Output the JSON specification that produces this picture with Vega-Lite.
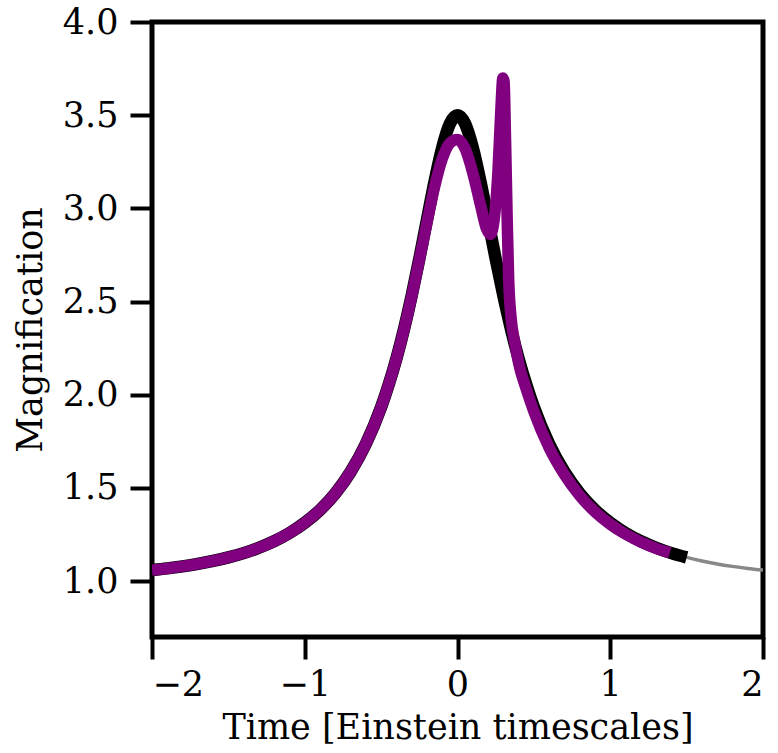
{
  "$schema": "https://vega.github.io/schema/vega-lite/v6.json",
  "autosize": {"type": "none"},
  "padding": {"left": 152, "top": 22, "right": 15, "bottom": 116},
  "width": 611,
  "height": 615,
  "background": "white",
  "config": {
    "font": "DejaVu Serif",
    "view": {"stroke": "black", "strokeWidth": 5},
    "axis": {
      "domain": false,
      "grid": false,
      "ticks": true,
      "tickColor": "black",
      "tickWidth": 4,
      "tickSize": 22,
      "labelFont": "DejaVu Serif",
      "labelFontSize": 35,
      "labelColor": "black",
      "titleFont": "DejaVu Serif",
      "titleFontSize": 35,
      "titleFontWeight": "normal",
      "titleColor": "black"
    }
  },
  "datasets": {
    "pspl": [
      {"t": -2.0, "A": 1.059}, {"t": -1.9, "A": 1.068}, {"t": -1.8, "A": 1.079}, {"t": -1.7, "A": 1.092},
      {"t": -1.6, "A": 1.108}, {"t": -1.5, "A": 1.127}, {"t": -1.4, "A": 1.150}, {"t": -1.3, "A": 1.179},
      {"t": -1.2, "A": 1.214}, {"t": -1.1, "A": 1.258}, {"t": -1.0, "A": 1.313}, {"t": -0.9, "A": 1.382},
      {"t": -0.8, "A": 1.471}, {"t": -0.7, "A": 1.586}, {"t": -0.6, "A": 1.736}, {"t": -0.5, "A": 1.933},
      {"t": -0.45, "A": 2.055}, {"t": -0.4, "A": 2.194}, {"t": -0.35, "A": 2.353}, {"t": -0.3, "A": 2.532},
      {"t": -0.25, "A": 2.729}, {"t": -0.2, "A": 2.938}, {"t": -0.15, "A": 3.145}, {"t": -0.1, "A": 3.326},
      {"t": -0.05, "A": 3.454}, {"t": 0.0, "A": 3.499}, {"t": 0.05, "A": 3.454}, {"t": 0.1, "A": 3.326},
      {"t": 0.15, "A": 3.145}, {"t": 0.2, "A": 2.938}, {"t": 0.25, "A": 2.729}, {"t": 0.3, "A": 2.532},
      {"t": 0.35, "A": 2.353}, {"t": 0.4, "A": 2.194}, {"t": 0.45, "A": 2.055}, {"t": 0.5, "A": 1.933},
      {"t": 0.6, "A": 1.736}, {"t": 0.7, "A": 1.586}, {"t": 0.8, "A": 1.471}, {"t": 0.9, "A": 1.382},
      {"t": 1.0, "A": 1.313}, {"t": 1.1, "A": 1.258}, {"t": 1.2, "A": 1.214}, {"t": 1.3, "A": 1.179},
      {"t": 1.4, "A": 1.150}, {"t": 1.5, "A": 1.127}, {"t": 1.6, "A": 1.108}, {"t": 1.7, "A": 1.092},
      {"t": 1.8, "A": 1.079}, {"t": 1.9, "A": 1.068}, {"t": 2.0, "A": 1.059}
    ],
    "binary": [
      {"t": -2.0, "A": 1.059}, {"t": -1.9, "A": 1.068}, {"t": -1.8, "A": 1.079}, {"t": -1.7, "A": 1.092},
      {"t": -1.6, "A": 1.108}, {"t": -1.5, "A": 1.127}, {"t": -1.4, "A": 1.150}, {"t": -1.3, "A": 1.179},
      {"t": -1.2, "A": 1.214}, {"t": -1.1, "A": 1.258}, {"t": -1.0, "A": 1.313}, {"t": -0.9, "A": 1.382},
      {"t": -0.8, "A": 1.471}, {"t": -0.7, "A": 1.586}, {"t": -0.6, "A": 1.736}, {"t": -0.5, "A": 1.933},
      {"t": -0.45, "A": 2.055}, {"t": -0.4, "A": 2.192}, {"t": -0.35, "A": 2.350}, {"t": -0.3, "A": 2.527},
      {"t": -0.25, "A": 2.722}, {"t": -0.2, "A": 2.922}, {"t": -0.15, "A": 3.115}, {"t": -0.1, "A": 3.265},
      {"t": -0.05, "A": 3.350}, {"t": 0.0, "A": 3.370}, {"t": 0.05, "A": 3.320}, {"t": 0.1, "A": 3.190},
      {"t": 0.15, "A": 3.020}, {"t": 0.19, "A": 2.890}, {"t": 0.215, "A": 2.860}, {"t": 0.24, "A": 2.940},
      {"t": 0.265, "A": 3.200}, {"t": 0.285, "A": 3.550}, {"t": 0.297, "A": 3.700}, {"t": 0.305, "A": 3.680},
      {"t": 0.315, "A": 3.350}, {"t": 0.325, "A": 2.950}, {"t": 0.335, "A": 2.620}, {"t": 0.35, "A": 2.420},
      {"t": 0.375, "A": 2.280}, {"t": 0.4, "A": 2.170}, {"t": 0.45, "A": 2.030}, {"t": 0.5, "A": 1.910},
      {"t": 0.6, "A": 1.715}, {"t": 0.7, "A": 1.571}, {"t": 0.8, "A": 1.459}, {"t": 0.9, "A": 1.372},
      {"t": 1.0, "A": 1.305}, {"t": 1.1, "A": 1.252}, {"t": 1.2, "A": 1.210}, {"t": 1.3, "A": 1.176},
      {"t": 1.39, "A": 1.152}
    ]
  },
  "encoding": {
    "x": {
      "field": "t", "type": "quantitative",
      "scale": {"domain": [-2, 2], "nice": false, "zero": false},
      "axis": {"values": [-2, -1, 0, 1, 2], "format": "d", "title": "Time [Einstein timescales]", "labelPadding": 8, "titlePadding": 8}
    },
    "y": {
      "field": "A", "type": "quantitative",
      "scale": {"domain": [0.7, 4.0], "nice": false, "zero": false},
      "axis": {"values": [1.0, 1.5, 2.0, 2.5, 3.0, 3.5, 4.0], "format": ".1f", "title": "Magnification", "labelPadding": 12, "titlePadding": 14}
    }
  },
  "layer": [
    {
      "data": {"name": "pspl"},
      "mark": {"type": "line", "color": "#888888", "strokeWidth": 3.5, "interpolate": "monotone", "clip": true, "strokeCap": "butt"}
    },
    {
      "data": {"name": "pspl"},
      "transform": [{"filter": "datum.t <= 1.5"}],
      "mark": {"type": "line", "color": "black", "strokeWidth": 12.5, "interpolate": "monotone", "clip": true, "strokeCap": "butt", "strokeJoin": "round"}
    },
    {
      "data": {"name": "binary"},
      "mark": {"type": "line", "color": "#800080", "strokeWidth": 11.5, "interpolate": "monotone", "clip": true, "strokeCap": "butt", "strokeJoin": "round"}
    }
  ]
}
